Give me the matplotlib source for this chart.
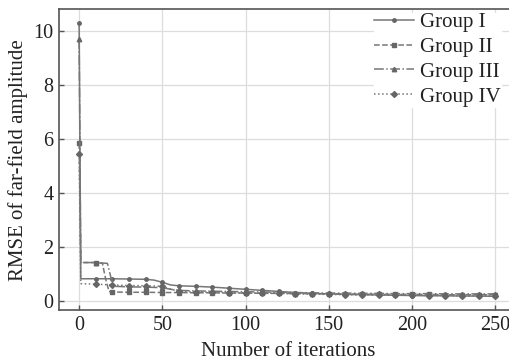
import matplotlib
matplotlib.use("Agg")
import matplotlib.pyplot as plt
import numpy as np

plt.rcParams['font.family'] = ['Liberation Serif', 'DejaVu Serif']

it1 = [0, 1, 10, 20, 30, 40, 45, 50, 55, 60, 70, 80, 90, 100, 110, 120, 130, 140, 150,
       160, 170, 180, 190, 200, 210, 220, 230, 240, 250]
g1 = [10.3, 0.83, 0.83, 0.83, 0.82, 0.81, 0.78, 0.7, 0.6, 0.57, 0.55, 0.52, 0.48, 0.44,
      0.4, 0.36, 0.32, 0.29, 0.27, 0.25, 0.24, 0.23, 0.22, 0.21, 0.2, 0.2, 0.19, 0.19, 0.18]

it2 = [0, 1, 10, 14, 16, 18, 20, 30, 40, 50, 60, 70, 80, 90, 100, 110, 120, 130, 140, 150,
       160, 170, 180, 190, 200, 210, 220, 230, 240, 250]
g2 = [5.85, 1.43, 1.43, 1.4, 0.8, 0.36, 0.34, 0.33, 0.33, 0.32, 0.32, 0.31, 0.31, 0.3, 0.3,
      0.29, 0.29, 0.28, 0.28, 0.27, 0.27, 0.26, 0.26, 0.25, 0.25, 0.25, 0.24, 0.24, 0.24, 0.24]

it3 = [0, 1, 10, 17, 19, 21, 30, 40, 50, 55, 60, 70, 80, 90, 100, 110, 120, 130, 140, 150,
       160, 170, 180, 190, 200, 210, 220, 230, 240, 250]
g3 = [9.7, 1.43, 1.43, 1.4, 0.9, 0.55, 0.53, 0.52, 0.5, 0.44, 0.4, 0.38, 0.37, 0.36, 0.35,
      0.34, 0.33, 0.32, 0.31, 0.3, 0.3, 0.29, 0.29, 0.28, 0.28, 0.28, 0.27, 0.27, 0.27, 0.27]

it4 = [0, 1, 10, 20, 30, 40, 50, 55, 60, 70, 80, 90, 100, 110, 120, 130, 140, 150,
       160, 170, 180, 190, 200, 210, 220, 230, 240, 250]
g4 = [5.45, 0.65, 0.63, 0.6, 0.58, 0.57, 0.55, 0.45, 0.36, 0.34, 0.33, 0.32, 0.31, 0.3,
      0.29, 0.27, 0.26, 0.25, 0.24, 0.23, 0.23, 0.22, 0.22, 0.21, 0.21, 0.2, 0.2, 0.2]

labels = ['Group I', 'Group II', 'Group III', 'Group IV']
xticks = [0, 50, 100, 150, 200, 250]
yticks = [0, 2, 4, 6, 8, 10]

fig = plt.figure(figsize=(5.10, 3.61), dpi=100)
ax = fig.add_axes([0.116, 0.141, 0.90, 0.833])

series = [(it1, g1, '-', 'o', 2.5), (it2, g2, '--', 's', 3.2),
          (it3, g3, '-.', '^', 3.2), (it4, g4, ':', 'D', 3.0)]
for (x, y, ls, mk, ms), lab in zip(series, labels):
    mev = [i for i, v in enumerate(x) if v % 10 == 0]
    ax.plot(x, y, linestyle=ls, color='#767676', lw=1.1, marker=mk, markersize=ms,
            markevery=mev, markerfacecolor='#666666', markeredgecolor='#666666', label=lab)

ax.set_xlim(-12, 263.8)
ax.set_ylim(-0.33, 10.8)
ax.set_xticks(xticks)
ax.set_yticks(yticks)
ax.grid(True, color='#dddddd', lw=0.9)
ax.set_axisbelow(True)
for s in ['left', 'bottom', 'top']:
    ax.spines[s].set_color('#555555')
    ax.spines[s].set_linewidth(1.2)
    ax.spines[s].set_zorder(6)
ax.spines['right'].set_visible(False)
ax.tick_params(direction='in', length=3.5, width=1, color='#555555', labelsize=14.5,
               labelcolor='#222222', pad=4)
ax.set_xlabel('Number of iterations', fontsize=15, color='#222222', labelpad=5)
ax.set_ylabel('RMSE of far-field amplitude', fontsize=15, color='#222222', labelpad=4)

leg = ax.legend(loc='upper right', bbox_to_anchor=(0.985, 1.024), fontsize=15,
                frameon=True, fancybox=False, edgecolor='white', framealpha=1,
                handlelength=1.9, handletextpad=0.3, labelspacing=0.25, borderpad=0.0)
leg.set_zorder(5)
for t in leg.get_texts():
    t.set_color('#222222')

fig.savefig('out.png', dpi=100)
